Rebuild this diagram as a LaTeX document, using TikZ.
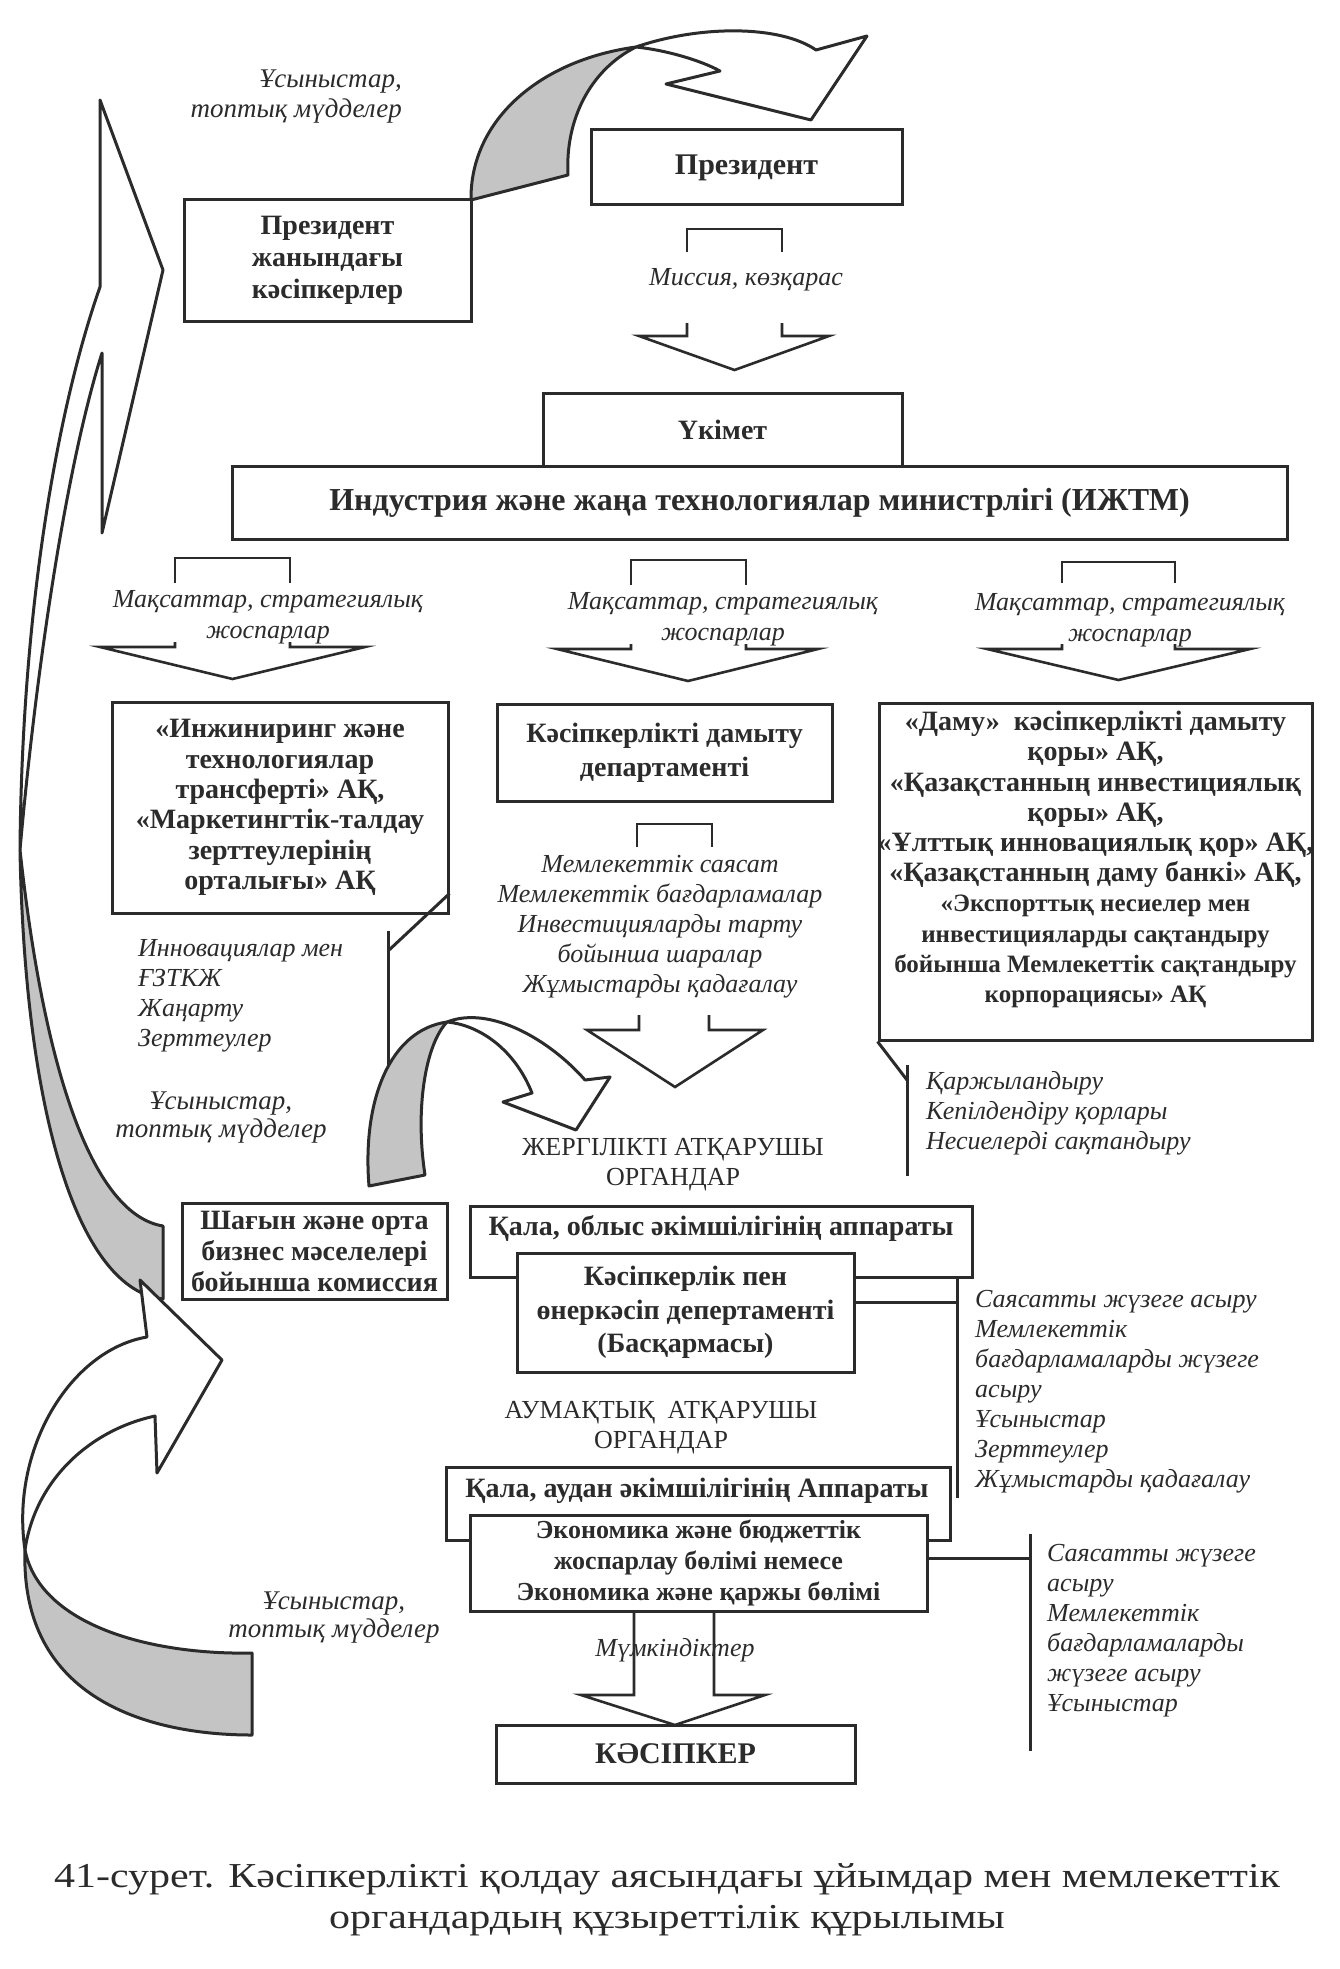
\documentclass[tikz,border=0pt]{standalone}
\usepackage{fontspec}
\setmainfont{Liberation Serif}
\newfontfamily\kzcapfamily[FakeStretch=1.2]{Liberation Serif}
\usepackage{tikz}
\usetikzlibrary{positioning}
\definecolor{kzink}{HTML}{2B2B2B}
\definecolor{kzgray}{HTML}{C4C4C4}
\tikzset{
  kzbox/.style={draw=kzink, line width=3pt, fill=white, align=center, inner sep=0pt,
    text=kzink, font={\fontsize{28}{31}\selectfont\bfseries}},
  kzframe/.style={draw=kzink, line width=3pt, fill=white, inner sep=0pt},
  kztext/.style={align=center, inner sep=0pt, text=kzink, font={\fontsize{28}{31}\selectfont\bfseries}},
  kznote/.style={align=left, inner sep=0pt, text=kzink, font={\fontsize{26}{30}\selectfont\itshape}},
  kzcaps/.style={align=center, inner sep=0pt, text=kzink, font={\fontsize{26}{30}\selectfont}},
  kzline/.style={draw=kzink, line width=3pt},
  kzopen/.style={draw=kzink, line width=2.6pt, line join=miter},
  kzribbon/.style={draw=kzink, line width=3pt, line join=round}
}

\begin{document}
\begin{tikzpicture}[x=1pt, y=-1pt]
\useasboundingbox (0,0) rectangle (1340,1969);
\fill[white] (0,0) rectangle (1340,1969);

% callout lines
\coordinate (engknee) at (388,951);
\coordinate (engtop) at (388,931);
\coordinate (engend) at (388,1100);
\coordinate (fundknee) at (907,1080);
\coordinate (fundtop) at (907,1065);
\coordinate (fundend) at (907,1176);
\coordinate (oblbar) at (957,1302);
\coordinate (obltop) at (957,1277);
\coordinate (oblend) at (957,1498);
\coordinate (econbar) at (1030,1558);
\coordinate (econtop) at (1030,1534);
\coordinate (econend) at (1030,1751);
\draw[kzline] (engtop) -- (engend);
\draw[kzline] (fundtop) -- (fundend);
\draw[kzline] (obltop) -- (oblend);
\draw[kzline] (econtop) -- (econend);

% ribbons
\filldraw[kzribbon, fill=kzgray] (20,850) .. controls (45,1080) and (95,1215) .. (163,1226) -- (163,1299) .. controls (80,1290) and (25,1120) .. (20,850) -- cycle;
\filldraw[kzribbon, fill=white] (100,287) -- (100,100) -- (163,270) -- (102,533) -- (102,353) .. controls (65,470) and (35,680) .. (20,850) .. controls (22,600) and (60,400) .. (100,287) -- cycle;
\filldraw[kzribbon, fill=kzgray] (25,1550) .. controls (40,1625) and (150,1655) .. (252,1653) -- (252,1735) .. controls (150,1735) and (20,1700) .. (25,1550) -- cycle;
\filldraw[kzribbon, fill=white] (147,1337) -- (140,1280) -- (222,1360) -- (157,1473) -- (155,1416) .. controls (90,1430) and (35,1480) .. (25,1550) .. controls (10,1450) and (70,1350) .. (147,1337) -- cycle;
\filldraw[kzribbon, fill=kzgray] (471,200) .. controls (470,120) and (540,60) .. (636,47) .. controls (590,70) and (565,120) .. (568,175) -- cycle;
\filldraw[kzribbon, fill=white] (636,47) .. controls (700,25) and (780,25) .. (816,50) -- (867,36) -- (811,120) -- (666,84) -- (720,71) .. controls (700,60) and (665,50) .. (636,47) -- cycle;
\filldraw[kzribbon, fill=kzgray] (369,1186) .. controls (362,1100) and (390,1030) .. (447,1022) .. controls (425,1045) and (415,1110) .. (425,1175) -- cycle;
\filldraw[kzribbon, fill=white] (447,1022) .. controls (490,1005) and (550,1040) .. (585,1080) -- (610,1077) -- (576,1130) -- (503,1102) -- (532,1093) .. controls (515,1050) and (480,1025) .. (447,1022) -- cycle;

% boxes
\node[kzbox, minimum width=311, minimum height=75, font={\fontsize{30}{33}\selectfont\bfseries}] (pres) at (746.5,167.5) {Президент};
\node[kzbox, minimum width=287, minimum height=121, font={\fontsize{28}{32}\selectfont\bfseries}] (advisers) at (327.5,260.5) {Президент\\жанындағы\\кәсіпкерлер};
\node[kzbox, minimum width=359, minimum height=73] (gov) at (722.5,429.5) {Үкімет};
\node[kzbox, minimum width=1055, minimum height=73, font={\fontsize{32}{35}\selectfont\bfseries}] (ministry) at (759.5,502.5) {Индустрия және жаңа технологиялар министрлігі (ИЖТМ)};
\node[kzbox, minimum width=336, minimum height=211, font={\fontsize{28}{30.4}\selectfont\bfseries}] (eng) at (280,807.5) {«Инжиниринг және\\технологиялар\\трансферті» АҚ,\\«Маркетингтік-талдау\\зерттеулерінің\\орталығы» АҚ};
\node[kzbox, minimum width=335, minimum height=97, font={\fontsize{28}{34}\selectfont\bfseries}] (devdept) at (664.5,752.5) {Кәсіпкерлікті дамыту\\департаменті};
\node[kzframe, minimum width=433, minimum height=337] (funds) at (1095.5,871.5) {};
\node[kztext, anchor=north, font={\fontsize{28}{30.2}\selectfont\bfseries}] (fundstext) at (1095.5,711) {«Даму»\ \ кәсіпкерлікті дамыту\\қоры» АҚ,\\«Қазақстанның инвестициялық\\қоры» АҚ,\\«Ұлттық инновациялық қор» АҚ,\\«Қазақстанның даму банкі» АҚ,\\\fontsize{25}{28}\selectfont«Экспорттық несиелер мен\\\fontsize{25}{28}\selectfont инвестицияларды сақтандыру\\\fontsize{25}{28}\selectfont бойынша Мемлекеттік сақтандыру\\\fontsize{25}{28}\selectfont корпорациясы» АҚ};
\node[kzbox, minimum width=265, minimum height=96] (smecomm) at (314.5,1251) {Шағын және орта\\бизнес мәселелері\\бойынша комиссия};
\node[kzframe, minimum width=502, minimum height=71] (oblframe) at (721,1241.5) {};
\node[kztext] (obltitle) at (721,1228) {Қала, облыс әкімшілігінің аппараты};
\node[kzbox, minimum width=337, minimum height=119, font={\fontsize{28}{33.5}\selectfont\bfseries}] (obldept) at (685.5,1312.5) {Кәсіпкерлік пен\\өнеркәсіп депертаменті\\(Басқармасы)};
\node[kzframe, minimum width=504, minimum height=73] (audframe) at (698,1503.5) {};
\node[kztext] (audtitle) at (697,1491) {Қала, аудан әкімшілігінің Аппараты};
\node[kzbox, minimum width=457, minimum height=96, font={\fontsize{26}{31}\selectfont\bfseries}] (econ) at (698.5,1563) {Экономика және бюджеттік\\жоспарлау бөлімі немесе\\Экономика және қаржы бөлімі};
\node[kzbox, minimum width=359, minimum height=58, font={\fontsize{30}{33}\selectfont\bfseries}] (biz) at (675.5,1754) {КӘСІПКЕР};

% callout ticks from the boxes
\draw[kzline] ([yshift=21pt]eng.south east) -- (engknee);
\draw[kzline] (funds.south west) -- (fundknee);
\draw[kzline] (obldept.east |- oblbar) -- (oblbar);
\draw[kzline] (econ.east |- econbar) -- (econbar);

% open arrows
\draw[kzopen] (687,252) -- (687,229) -- (782,229) -- (782,252);
\draw[kzopen] (687,323) -- (687,336) -- (639,336) -- (734.5,370) -- (829,336) -- (782,336) -- (782,323);
\draw[kzopen] (175,583) -- (175,558) -- (290,558) -- (290,583);
\draw[kzopen] (175,642) -- (175,647) -- (100,647) -- (232.5,679) -- (365,647) -- (290,647) -- (290,642);
\draw[kzopen] (631,585) -- (631,560) -- (746,560) -- (746,585);
\draw[kzopen] (631,644) -- (631,649) -- (557,649) -- (688,681) -- (818,649) -- (746,649) -- (746,644);
\draw[kzopen] (1062,583) -- (1062,562) -- (1175,562) -- (1175,583);
\draw[kzopen] (1062,644) -- (1062,649) -- (987,649) -- (1118.5,680) -- (1250,649) -- (1175,649) -- (1175,644);
\draw[kzopen] (637,847) -- (637,824) -- (712,824) -- (712,847);
\draw[kzopen] (639,1015) -- (639,1030) -- (587,1030) -- (675,1087) -- (763,1030) -- (709,1030) -- (709,1015);
\draw[kzopen] (634,1611) -- (634,1695) -- (581,1695) -- (675,1725) -- (765,1695) -- (714,1695) -- (714,1611);

% labels
\node[kznote, align=right, anchor=north east, font={\fontsize{27}{30}\selectfont\itshape}] (topwish) at (402,70) {Ұсыныстар,\\топтық мүдделер};
\node[kznote, align=center, font={\fontsize{27}{28}\selectfont\itshape}] (midwish) at (221,1118) {Ұсыныстар,\\топтық мүдделер};
\node[kznote, align=center, font={\fontsize{27}{28}\selectfont\itshape}] (lowwish) at (334,1618) {Ұсыныстар,\\топтық мүдделер};
\node[kznote, align=center] (mission) at (746,280) {Миссия, көзқарас};
\node[kznote, align=center, font={\fontsize{26}{31}\selectfont\itshape}] (goalsleft) at (268,617) {Мақсаттар, стратегиялық\\жоспарлар};
\node[kznote, align=center, font={\fontsize{26}{31}\selectfont\itshape}] (goalsmid) at (723,619) {Мақсаттар, стратегиялық\\жоспарлар};
\node[kznote, align=center, font={\fontsize{26}{31}\selectfont\itshape}] (goalsright) at (1130,620) {Мақсаттар, стратегиялық\\жоспарлар};
\node[kznote, anchor=north west] (engnote) at (138,939) {Инновациялар мен\\ҒЗТКЖ\\Жаңарту\\Зерттеулер};
\node[kznote, align=center, anchor=north] (policynote) at (660,855) {Мемлекеттік саясат\\Мемлекеттік бағдарламалар\\Инвестицияларды тарту\\бойынша шаралар\\Жұмыстарды қадағалау};
\node[kznote, anchor=north west] (fundnote) at (926,1071) {Қаржыландыру\\Кепілдендіру қорлары\\Несиелерді сақтандыру};
\node[kzcaps] (localorg) at (673,1165) {ЖЕРГІЛІКТІ АТҚАРУШЫ\\ОРГАНДАР};
\node[kzcaps] (distorg) at (661,1428) {АУМАҚТЫҚ\ \ АТҚАРУШЫ\\ОРГАНДАР};
\node[kznote, anchor=north west] (oblnote) at (975,1290) {Саясатты жүзеге асыру\\Мемлекеттік\\бағдарламаларды жүзеге\\асыру\\Ұсыныстар\\Зерттеулер\\Жұмыстарды қадағалау};
\node[kznote, anchor=north west] (econnote) at (1047,1544) {Саясатты жүзеге\\асыру\\Мемлекеттік\\бағдарламаларды\\жүзеге асыру\\Ұсыныстар};
\node[kznote] (chances) at (675,1650) {Мүмкіндіктер};
\node[align=center, inner sep=0pt, text=kzink, font={\kzcapfamily\fontsize{35}{41}\selectfont}] (caption) at (667,1899.5) {41-сурет. Кәсіпкерлікті қолдау аясындағы ұйымдар мен мемлекеттік\\органдардың құзыреттілік құрылымы};
\end{tikzpicture}
\end{document}
